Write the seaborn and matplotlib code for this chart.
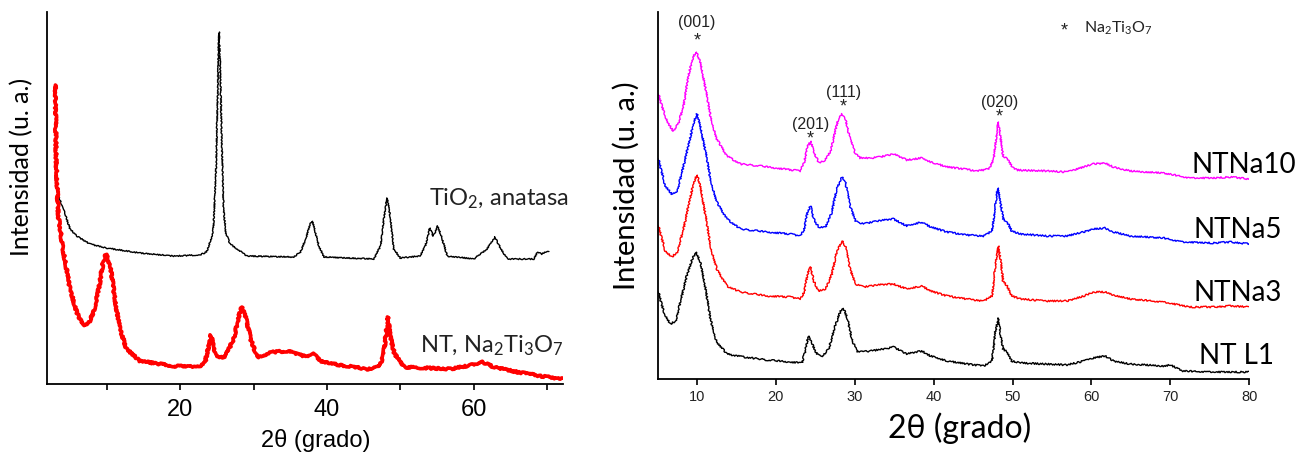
import matplotlib
matplotlib.use("Agg")
import matplotlib.pyplot as plt
import seaborn as sns
import pandas as pd

# ---------------- data ----------------
# Left panel: TiO2 anatase (black) and NT Na2Ti3O7 (red)
tio2_x = [3.0, 3.4, 4.1, 5.0, 5.9, 7.7, 10.0, 14.5, 19.1, 22.7, 23.6, 24.3, 24.55, 24.9, 25.1, 25.2,
          25.3, 25.45, 25.7, 25.9, 26.2, 26.8, 29.1, 35.5, 36.4, 37.1, 37.7, 38.0, 38.9, 39.6, 46.4,
          47.3, 47.8, 48.2, 48.6, 49.1, 50.0, 52.7, 53.4, 54.0, 54.5, 55.1, 55.7, 56.4, 60.0, 61.8,
          62.9, 63.7, 64.6, 68.2, 68.7, 69.3, 70.0, 70.2]
tio2_y = [207, 188, 175, 155, 148, 140, 136, 131, 128, 129, 132, 147, 158, 218, 285, 328,
          352, 318, 235, 178, 152, 140, 128, 127, 132, 145, 160, 163, 138, 127, 125,
          138, 168, 186, 168, 135, 126, 128, 138, 156, 148, 158, 145, 128, 125, 135,
          147, 135, 125, 125, 132, 130, 133, 132]

nt_x = [3.0, 3.1, 3.4, 4.1, 5.0, 5.9, 6.8, 7.5, 8.2, 8.9, 9.5, 9.9, 10.5, 11.1, 11.8, 12.7, 14.5,
        19.1, 22.7, 23.4, 23.9, 24.2, 24.6, 25.2, 26.1, 27.3, 28.0, 28.4, 28.9, 29.6, 30.5, 32.7,
        34.6, 37.3, 38.2, 39.1, 40.9, 45.5, 47.1, 47.7, 48.1, 48.3, 48.6, 49.2, 49.8, 50.5, 56.8,
        59.1, 61.2, 62.7, 65.9, 69.1, 72.1]
nt_y = [299, 225, 168, 132, 95, 72, 58, 60, 72, 95, 122, 130, 118, 85, 55, 35, 23,
        18, 17, 22, 38, 49, 35, 27, 27, 45, 68, 77, 68, 45, 27, 32,
        33, 27, 30, 23, 20, 15, 17, 28, 55, 67, 48, 30, 25, 17, 15,
        18, 22, 17, 12, 8, 5]

# Right panel: four stacked patterns
na10_x = [5.1, 5.8, 6.4, 7.0, 7.7, 8.3, 8.9, 9.5, 9.9, 10.4, 11.1, 11.7, 12.5, 13.8, 15.5, 18.0,
          21.0, 23.1, 23.6, 24.0, 24.4, 24.8, 25.4, 26.0, 26.9, 27.5, 27.9, 28.4, 28.8, 29.4, 30.1,
          30.7, 32.0, 33.2, 34.9, 36.6, 38.5, 39.6, 41.7, 43.8, 45.5, 47.0, 47.6, 48.0, 48.2, 48.5,
          48.8, 49.3, 49.9, 50.5, 54.3, 56.9, 59.0, 60.2, 61.7, 62.8, 64.9, 69.1, 72.5, 75.4, 77.6, 80.0]
na10_y = [285, 267, 255, 248, 257, 273, 303, 322, 327, 317, 290, 263, 240, 223, 215, 213,
          210, 208, 217, 232, 238, 227, 217, 217, 227, 247, 260, 265, 260, 240, 225,
          221, 221, 222, 225, 219, 221, 217, 212, 210, 208, 210, 220, 247, 257, 240,
          223, 220, 213, 209, 208, 207, 212, 215, 216, 212, 208, 206, 201, 201, 202, 200]

na5_x = [5.1, 6.0, 6.8, 7.5, 8.3, 9.1, 9.6, 10.0, 10.4, 11.1, 11.7, 12.5, 13.8, 15.5, 18.9, 21.8,
         23.1, 23.6, 24.0, 24.4, 24.8, 25.4, 26.3, 27.1, 27.7, 28.4, 28.8, 29.4, 30.1, 31.1, 32.8,
         34.9, 36.6, 38.5, 39.6, 41.7, 44.2, 46.3, 47.4, 47.8, 48.1, 48.4, 48.8, 49.3, 49.9, 51.0,
         54.3, 56.9, 59.0, 60.2, 61.7, 62.8, 64.9, 69.1, 71.6, 75.4, 77.6, 80.0]
na5_y = [220, 193, 185, 188, 213, 240, 257, 265, 253, 227, 200, 177, 160, 150, 147, 145,
         143, 150, 167, 173, 160, 152, 152, 167, 190, 202, 197, 173, 158, 155, 158,
         160, 153, 157, 152, 147, 144, 143, 148, 173, 191, 180, 160, 157, 148, 145,
         143, 143, 147, 150, 151, 147, 143, 141, 137, 136, 137, 135]

na3_x = [5.1, 6.0, 6.8, 7.5, 8.3, 9.1, 9.6, 10.0, 10.4, 11.1, 11.7, 12.5, 13.8, 15.5, 18.9, 21.8,
         23.1, 23.6, 24.0, 24.4, 24.8, 25.4, 26.3, 27.1, 27.7, 28.4, 28.8, 29.4, 30.1, 31.1, 32.8,
         34.9, 36.6, 38.5, 39.6, 41.7, 44.2, 46.3, 47.4, 47.8, 48.2, 48.5, 48.8, 49.3, 49.9, 51.0,
         54.3, 56.9, 59.0, 60.2, 61.7, 62.8, 64.9, 69.1, 72.5, 75.4, 77.6, 80.0]
na3_y = [153, 128, 122, 127, 150, 180, 197, 204, 193, 163, 133, 110, 93, 87, 83, 82,
         80, 87, 105, 112, 98, 88, 90, 105, 127, 138, 133, 110, 95, 92, 94,
         95, 90, 93, 88, 83, 80, 78, 83, 113, 133, 117, 98, 93, 83, 80,
         78, 78, 83, 87, 87, 84, 80, 77, 72, 72, 73, 72]

l1_x = [5.1, 5.8, 6.6, 7.3, 7.9, 8.7, 9.4, 9.9, 10.4, 11.1, 11.7, 12.5, 13.8, 15.9, 18.9, 21.8,
        23.3, 23.7, 24.1, 24.6, 25.2, 25.8, 26.7, 27.5, 28.2, 28.6, 29.1, 29.6, 30.3, 32.0, 33.6,
        34.9, 36.6, 38.5, 39.6, 41.7, 44.2, 46.3, 47.4, 47.8, 48.2, 48.5, 48.8, 49.3, 49.9, 51.0,
        54.3, 56.9, 59.0, 60.2, 61.7, 62.8, 64.9, 69.1, 70.0, 71.6, 75.4, 80.0]
l1_y = [87, 67, 55, 58, 77, 103, 120, 127, 117, 90, 60, 37, 25, 22, 19, 17,
        16, 27, 43, 35, 25, 22, 30, 53, 68, 70, 60, 40, 27, 28, 30,
        32, 25, 28, 23, 18, 15, 13, 18, 47, 61, 43, 30, 27, 18, 16,
        15, 14, 18, 21, 23, 18, 15, 13, 14, 8, 7, 7]

series_labels = ["NTNa10", "NTNa5", "NTNa3", "NT L1"]
hkl_labels = ["(001)", "(201)", "(111)", "(020)"]
hkl_pos = [10.0, 24.4, 28.6, 48.3]
hkl_heights = [357, 255, 287, 277]
left_ticks = [20, 40, 60]
right_ticks = [10, 20, 30, 40, 50, 60, 70, 80]

# ---------------- style ----------------
sns.set_theme(style="ticks")
plt.rcParams["font.family"] = ["Lato", "DejaVu Sans"]
plt.rcParams["mathtext.fontset"] = "custom"
plt.rcParams["mathtext.rm"] = "Lato"
plt.rcParams["mathtext.it"] = "Lato:italic"
plt.rcParams["mathtext.bf"] = "Lato:bold"
ARIAL = ["Liberation Sans", "DejaVu Sans"]

W, H = 1309, 460
fig = plt.figure(figsize=(W / 100, H / 100), dpi=100)


def add_axes_px(x0, y0, x1, y1):
    return fig.add_axes([x0 / W, 1 - y1 / H, (x1 - x0) / W, (y1 - y0) / H])


def line(ax, x, y, color, lw, sketch):
    df = pd.DataFrame({"x": x, "y": y})
    n = len(ax.lines)
    sns.lineplot(data=df, x="x", y="y", ax=ax, color=color, linewidth=lw,
                 sort=False, estimator=None)
    for ln in ax.lines[n:]:
        ln.set_sketch_params(*sketch)
        ln.set_solid_joinstyle("round")


# ---------------- left panel ----------------
axL = add_axes_px(47.3, 12.7, 563.3, 385)
line(axL, tio2_x, tio2_y, "black", 1.0, (0.6, 2.0, 2.0))
line(axL, nt_x, nt_y, "#ff0000", 2.6, (1.0, 1.0, 1.5))
axL.set_xlim(1.9, 72.2)
axL.set_ylim(0, 372.3)
axL.set_xticks(left_ticks)
axL.set_xticks([10, 30, 50, 70], minor=True)
axL.set_yticks([])
axL.tick_params(axis="x", which="both", direction="out", length=4, width=1.2, color="black")
axL.tick_params(axis="x", which="major", labelsize=17, pad=6,
                labelfontfamily="Liberation Sans", labelcolor="black")
for s in ["top", "right"]:
    axL.spines[s].set_visible(False)
for s in ["left", "bottom"]:
    axL.spines[s].set_color("black")
    axL.spines[s].set_linewidth(1.3)
axL.set_xlabel("2θ (grado)", fontsize=17, family=ARIAL, color="black")
axL.xaxis.set_label_coords(0.52, -0.148)
axL.xaxis.label.set_va("center")
axL.set_ylabel("Intensidad (u. a.)", fontsize=18, color="black")
axL.yaxis.set_label_coords(-0.049, 0.586)
axL.yaxis.label.set_va("center")
axL.text(72.9, 180, r"TiO$_2$, anatasa", ha="right", va="baseline", fontsize=17, color="#222222")
axL.text(72.3, 33, r"NT, Na$_2$Ti$_3$O$_7$", ha="right", va="baseline", fontsize=17, color="#222222")

# ---------------- right panel ----------------
axR = add_axes_px(658.3, 13.3, 1249.3, 380)
right_series = [(na10_x, na10_y, "#ff00ff"), (na5_x, na5_y, "#0000ff"),
                (na3_x, na3_y, "#ff0000"), (l1_x, l1_y, "black")]
for x, y, c in right_series:
    line(axR, x, y, c, 1.0, (0.8, 1.5, 2.0))
axR.set_xlim(5.1, 80)
axR.set_ylim(0, 366.7)
axR.set_xticks(right_ticks)
axR.set_yticks([])
axR.tick_params(axis="x", direction="out", length=4, width=1.2, color="black",
                labelsize=10.5, pad=3, labelfontfamily="Liberation Sans", labelcolor="#222222")
for s in ["top", "right"]:
    axR.spines[s].set_visible(False)
for s in ["left", "bottom"]:
    axR.spines[s].set_color("black")
    axR.spines[s].set_linewidth(1.3)
axR.set_xlabel("2θ (grado)", fontsize=23, color="black")
axR.xaxis.set_label_coords(0.51, -0.131)
axR.xaxis.label.set_va("center")
axR.set_ylabel("Intensidad (u. a.)", fontsize=21, color="black")
axR.yaxis.set_label_coords(-0.0547, 0.529)
axR.yaxis.label.set_va("center")

label_pos = [(72.7, 215), (72.9, 150), (72.9, 87), (73.6, 24)]
for (lx, ly), lab in zip(label_pos, series_labels):
    axR.text(lx, ly, lab, ha="left", va="center", fontsize=20, color="black", clip_on=False)

for i, (lab, xp, yp) in enumerate(zip(hkl_labels, hkl_pos, hkl_heights)):
    off = 18 if i == 0 else 14
    axR.text(xp, yp, lab, ha="center", va="center", fontsize=11.5, family=ARIAL, color="#222222")
    axR.text(xp, yp - off, "*", ha="center", va="center", fontsize=13, family=ARIAL, color="#222222")

axR.text(56.5, 349, "*", ha="center", va="center", fontsize=13, family=ARIAL, color="#222222")
axR.text(59.0, 352, r"Na$_2$Ti$_3$O$_7$", ha="left", va="center", fontsize=11.5, color="#222222")

fig.savefig("out.png", dpi=100)
